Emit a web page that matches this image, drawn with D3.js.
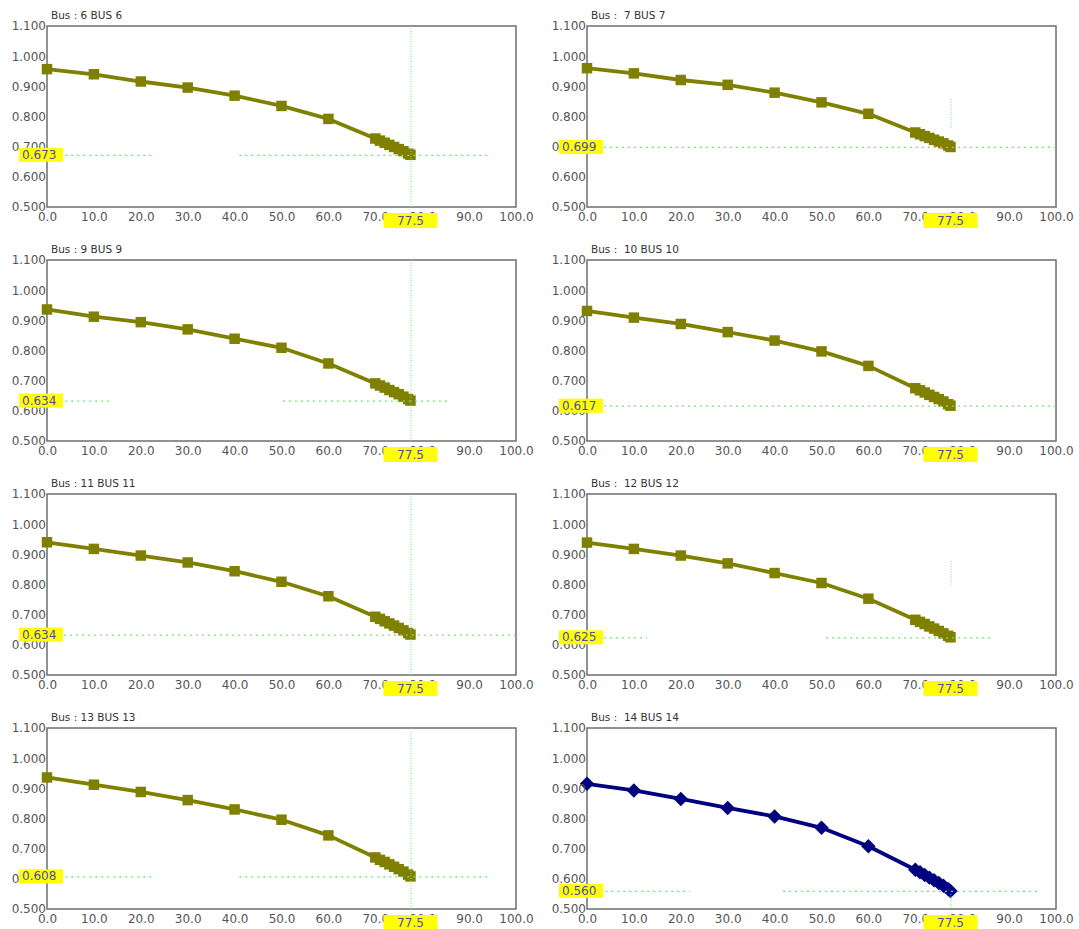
<!DOCTYPE html>
<html>
<head>
<meta charset="utf-8">
<script src="https://cdn.jsdelivr.net/npm/d3@7"></script>
<style>
  html, body { margin: 0; padding: 0; background: #fff; }
  svg { display: block; }
</style>
</head>
<body>
<svg id="chart" width="1079" height="929"></svg>
<script>
// load steps (x) shared by every bus
const loads = [0, 10, 20, 30, 40, 50, 60, 70, 71, 72, 73, 74, 75, 76, 77, 77.5]
const xTicks = [0, 10, 20, 30, 40, 50, 60, 70, 80, 90, 100]
const yTicks = [0.5, 0.6, 0.7, 0.8, 0.9, 1.0, 1.1]

const busTitles = ["Bus : 6 BUS 6", "Bus :  7 BUS 7", "Bus : 9 BUS 9", "Bus :  10 BUS 10",
  "Bus : 11 BUS 11", "Bus :  12 BUS 12", "Bus : 13 BUS 13", "Bus :  14 BUS 14"]

const bus6 = [0.957, 0.940, 0.916, 0.896, 0.869, 0.835, 0.792, 0.727, 0.720, 0.713, 0.706, 0.699, 0.692, 0.685, 0.677, 0.673]
const bus7 = [0.960, 0.943, 0.921, 0.905, 0.879, 0.847, 0.809, 0.747, 0.741, 0.735, 0.729, 0.723, 0.717, 0.711, 0.704, 0.699]
const bus9 = [0.936, 0.912, 0.894, 0.870, 0.839, 0.809, 0.757, 0.691, 0.684, 0.677, 0.669, 0.662, 0.655, 0.647, 0.639, 0.634]
const bus10 = [0.931, 0.909, 0.888, 0.861, 0.833, 0.797, 0.749, 0.675, 0.668, 0.661, 0.653, 0.646, 0.639, 0.631, 0.622, 0.617]
const bus11 = [0.940, 0.918, 0.896, 0.873, 0.844, 0.809, 0.761, 0.693, 0.686, 0.678, 0.671, 0.664, 0.656, 0.648, 0.639, 0.634]
const bus12 = [0.939, 0.918, 0.896, 0.870, 0.838, 0.805, 0.753, 0.683, 0.676, 0.669, 0.661, 0.654, 0.646, 0.638, 0.630, 0.625]
const bus13 = [0.936, 0.912, 0.888, 0.861, 0.830, 0.796, 0.744, 0.671, 0.663, 0.656, 0.648, 0.640, 0.632, 0.624, 0.614, 0.608]
const bus14 = [0.915, 0.893, 0.865, 0.835, 0.807, 0.769, 0.708, 0.630, 0.622, 0.613, 0.604, 0.595, 0.586, 0.577, 0.566, 0.560]
const busValues = [bus6, bus7, bus9, bus10, bus11, bus12, bus13, bus14]

// cursor read-out
const cursorX = 77.5
const cursorY = [0.673, 0.699, 0.634, 0.617, 0.634, 0.625, 0.608, 0.560]
// visible pieces of the dotted cursor lines (x ranges for horizontal, y ranges for vertical)
const hPieces = [
  [[3.9, 22.6], [41, 94.7]],
  [[3.6, 100]],
  [[3.9, 13.4], [50.3, 85.5]],
  [[3.6, 100]],
  [[3.6, 100]],
  [[3.6, 12.8], [51, 86.3]],
  [[3.9, 22.6], [41, 94.7]],
  [[3.9, 22], [41.8, 95.9]],
]
const vPieces = [
  [[0.5, 1.1]],
  [[0.757, 0.857]],
  [[0.5, 1.1]],
  [],
  [[0.5, 1.1]],
  [[0.8, 0.877]],
  [[0.5, 1.1]],
  [[0.5, 0.55]],
]

const svg = d3.select("#chart")
const font = "DejaVu Sans, Verdana, sans-serif"
const colLeft = [47, 587]
const rowTop = [26, 260, 494, 728]
const iw = 469
const ih = 181

busValues.forEach((vals, i) => {
  const left = colLeft[i % 2]
  const top = rowTop[Math.floor(i / 2)]
  const x = d3.scaleLinear().domain([0, 100]).range([0, iw])
  const y = d3.scaleLinear().domain([0.5, 1.1]).range([ih, 0])
  const blue = i === 7
  const color = blue ? "#000080" : "#808000"

  const g = svg.append("g").attr("transform", `translate(${left},${top})`)

  g.append("text")
    .attr("x", 4).attr("y", -7)
    .attr("font-family", font).attr("font-size", 10.5).attr("fill", "#333")
    .style("white-space", "pre")
    .text(busTitles[i])

  g.append("rect")
    .attr("width", iw).attr("height", ih)
    .attr("fill", "#fff").attr("stroke", "#6e6e6e").attr("stroke-width", 1.5)

  const pts = loads.map((l, j) => ({x: l, y: vals[j]}))

  g.append("path")
    .datum(pts)
    .attr("fill", "none")
    .attr("stroke", color)
    .attr("stroke-width", 3.8)
    .attr("stroke-linejoin", "round")
    .attr("d", d3.line().x((d) => x(d.x)).y((d) => y(d.y)))

  const sym = d3.symbol().type(d3.symbolSquare).size(blue ? 105 : 110)
  g.append("g")
    .selectAll("path")
    .data(pts)
    .join("path")
    .attr("transform", (d) => `translate(${x(d.x)},${y(d.y)})${blue ? " rotate(45)" : ""}`)
    .attr("d", sym)
    .attr("fill", color)

  // dotted cursor
  const cur = g.append("g").attr("stroke", "#6fe26f")
  hPieces[i].forEach(([a, b]) => {
    cur.append("line")
      .attr("x1", x(a)).attr("x2", x(b))
      .attr("y1", y(cursorY[i]) + 0.5).attr("y2", y(cursorY[i]) + 0.5)
      .attr("stroke-width", 1.3)
      .attr("stroke-dasharray", "2,4")
  })
  vPieces[i].forEach(([a, b]) => {
    cur.append("line")
      .attr("x1", x(cursorX) + 0.5).attr("x2", x(cursorX) + 0.5)
      .attr("y1", y(b)).attr("y2", y(a))
      .attr("stroke-width", 1)
      .attr("stroke-dasharray", "1,1.5")
  })

  g.append("g")
    .attr("transform", `translate(0,${ih})`)
    .call(d3.axisBottom(x).tickValues(xTicks).tickFormat(d3.format(".1f")).tickSize(0).tickPadding(5))
    .call((gg) => gg.select(".domain").remove())
    .call((gg) => gg.selectAll("text").attr("font-family", font).attr("font-size", 12).attr("fill", "#555"))

  g.append("g")
    .call(d3.axisLeft(y).tickValues(yTicks).tickFormat(d3.format(".3f")).tickSize(0).tickPadding(1))
    .call((gg) => gg.select(".domain").remove())
    .call((gg) => gg.selectAll("text").attr("font-family", font).attr("font-size", 12).attr("fill", "#555"))

  // yellow read-out tags
  const yl = g.append("g").attr("transform", `translate(-28,${y(cursorY[i]) - 7})`)
  yl.append("rect").attr("width", 44).attr("height", 14).attr("fill", "#ffff00")
  yl.append("text")
    .attr("x", 3).attr("y", 11)
    .attr("font-family", font).attr("font-size", 12).attr("fill", "#4b4bb0")
    .text(d3.format(".3f")(cursorY[i]))

  const xl = g.append("g").attr("transform", `translate(${x(cursorX) - 27},${ih + 6})`)
  xl.append("rect").attr("width", 54).attr("height", 15).attr("fill", "#ffff00")
  xl.append("text")
    .attr("x", 27).attr("y", 12).attr("text-anchor", "middle")
    .attr("font-family", font).attr("font-size", 12).attr("fill", "#4b4bb0")
    .text(d3.format(".1f")(cursorX))
})
</script>
</body>
</html>
